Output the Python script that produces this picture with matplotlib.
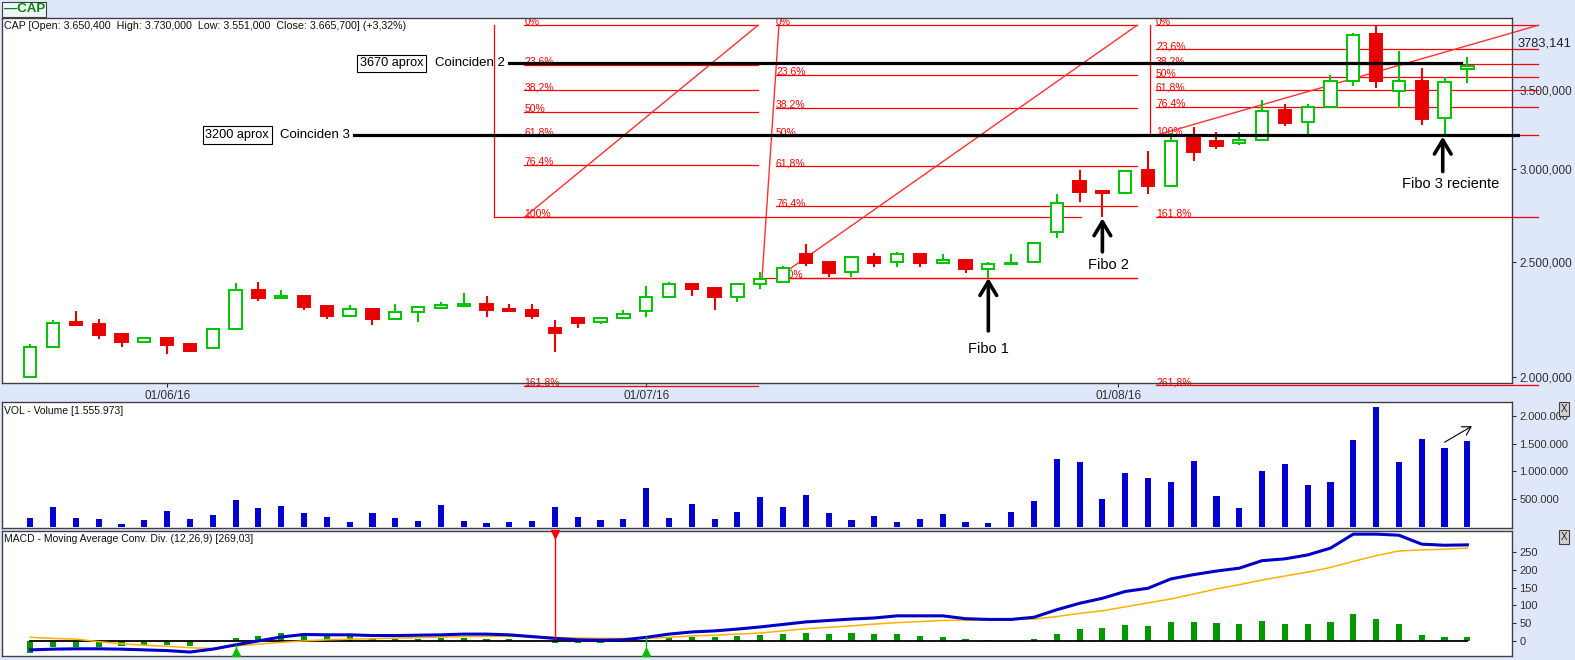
import numpy as np
import matplotlib
matplotlib.use('Agg')
import matplotlib.pyplot as plt
from matplotlib.patches import Rectangle
from matplotlib.ticker import FixedLocator, NullLocator

plt.rcParams['font.family'] = ['Liberation Sans', 'DejaVu Sans']

### data

opens = [2000, 2118, 2226, 2217, 2174, 2141, 2157, 2132, 2114, 2194,
         2369, 2334, 2341, 2296, 2253, 2283, 2240, 2268, 2288, 2297,
         2305, 2283, 2278, 2200, 2242, 2224, 2242, 2272, 2335, 2397,
         2378, 2338, 2396, 2405, 2541, 2501, 2452, 2527, 2501, 2540,
         2499, 2512, 2470, 2491, 2502, 2652, 2929, 2874, 2862, 2995,
         2904, 3190, 3169, 3159, 3174, 3367, 3288, 3388, 3561, 3905,
         3492, 3563, 3313, 3650.4]
highs = [2130, 2234, 2274, 2238, 2176, 2161, 2159, 2136, 2200, 2402,
         2406, 2369, 2343, 2297, 2301, 2284, 2305, 2293, 2314, 2355,
         2341, 2305, 2305, 2234, 2243, 2243, 2277, 2388, 2408, 2398,
         2379, 2396, 2452, 2483, 2590, 2502, 2532, 2548, 2550, 2541,
         2542, 2513, 2501, 2540, 2603, 2858, 2995, 2876, 2995, 3108,
         3219, 3257, 3224, 3224, 3433, 3404, 3404, 3603, 3911, 3972,
         3778, 3652, 3593, 3730]
lows = [1998, 2115, 2212, 2154, 2121, 2139, 2092, 2100, 2112, 2192,
        2320, 2329, 2278, 2240, 2249, 2212, 2239, 2227, 2284, 2296,
        2247, 2269, 2238, 2099, 2201, 2215, 2240, 2249, 2334, 2343,
        2280, 2313, 2375, 2404, 2483, 2428, 2428, 2479, 2479, 2479,
        2494, 2450, 2426, 2490, 2499, 2624, 2815, 2733, 2860, 2856,
        2903, 3048, 3120, 3144, 3172, 3265, 3211, 3386, 3530, 3516,
        3378, 3272, 3204, 3551]
closes = [2118, 2220, 2214, 2171, 2142, 2157, 2129, 2104, 2194, 2368,
          2334, 2341, 2293, 2253, 2281, 2240, 2269, 2292, 2301, 2305,
          2278, 2274, 2252, 2178, 2222, 2242, 2259, 2335, 2397, 2375,
          2338, 2396, 2419, 2472, 2499, 2450, 2527, 2499, 2540, 2499,
          2512, 2470, 2491, 2496, 2595, 2806, 2869, 2862, 2987, 2904,
          3168, 3104, 3140, 3176, 3359, 3279, 3388, 3561, 3898, 3565,
          3561, 3306, 3554, 3665.7]

volume = [156, 354, 156, 138, 48, 120, 282, 138, 210, 480,
          336, 372, 246, 174, 84, 246, 156, 102, 390, 102,
          66, 84, 102, 354, 174, 120, 138, 696, 156, 408,
          138, 264, 534, 354, 570, 246, 120, 192, 84, 138,
          228, 84, 66, 264, 462, 1218, 1164, 498, 966, 876,
          804, 1182, 552, 336, 1002, 1128, 750, 804, 1560, 2173,
          1164, 1578, 1416, 1556]   # miles

macd = [-24, -22, -21, -21, -22, -24, -26, -30, -22, -10,
        1, 12, 19, 18, 18, 16, 16, 17, 18, 20,
        20, 18, 13, 8, 4, 3, 4, 11, 20, 26,
        29, 34, 40, 47, 54, 58, 62, 65, 71, 71,
        71, 63, 61, 61, 67, 88, 106, 120, 139, 148,
        174, 186, 196, 204, 225, 230, 241, 260, 299, 299,
        296, 271, 268, 269]
signal = [11, 8, 6, -1, -7, -11, -14, -18, -20, -13,
          -8, -3, 1, 4, 6, 7, 9, 10, 12, 13,
          14, 14, 13, 11, 9, 8, 8, 8, 11, 15,
          17, 20, 23, 29, 35, 39, 43, 48, 52, 55,
          58, 59, 60, 61, 62, 69, 78, 85, 96, 107,
          118, 132, 146, 158, 171, 182, 193, 206, 223, 239,
          252, 255, 257, 260]
hist = [-34, -17, -17, -15, -12, -10, -10, -12, -3, 8,
        16, 22, 20, 17, 14, 8, 6, 6, 9, 9,
        6, 6, 0, -4, -4, -4, 0, 3, 11, 13,
        12, 15, 18, 21, 23, 21, 23, 21, 21, 15,
        12, 7, 4, 0, 7, 21, 35, 37, 46, 43,
        54, 54, 51, 49, 57, 49, 49, 54, 76, 62,
        49, 18, 12, 12]
buy_sig = [9, 27]
sell_sig = [23]

date_pos = [6, 27, 47.7]
date_labels = ['01/06/16', '01/07/16', '01/08/16']

price_ticks = [2000, 2500, 3000, 3500]
price_labels = ['2.000,000', '2.500,000', '3.000,000', '3.500,000']
vol_ticks = [500, 1000, 1500, 2000]
vol_labels = ['500.000', '1.000.000', '1.500.000', '2.000.000']
macd_ticks = [0, 50, 100, 150, 200, 250]

# fibonacci retracements: 0% and 100% prices
fib_top = 3972
fib1_low, fib2_low, fib3_low = 2731, 2425, 3206
fib1_levels = [0, 23.6, 38.2, 50, 61.8, 76.4, 100, 161.8]
fib2_levels = [0, 23.6, 38.2, 50, 61.8, 76.4, 100]
fib3_levels = [0, 23.6, 38.2, 50, 61.8, 76.4, 100, 161.8, 261.8]

coincide2 = 3688
coincide3 = 3206

### figure

W, H = 1575, 660
BG = '#dfe8fb'
GREEN = '#00c400'
RED = '#e80000'
fig = plt.figure(figsize=(W / 100, H / 100), dpi=100, facecolor=BG)


def px_axes(x0, y0, x1, y1):
    return fig.add_axes([x0 / W, 1 - y1 / H, (x1 - x0) / W, (y1 - y0) / H])


def ftext(x, y, s, **kw):
    return fig.text(x / W, 1 - y / H, s, **kw)


ax_p = px_axes(2, 18.3, 1512.3, 383.3)
ax_v = px_axes(2, 401.5, 1512.3, 528)
ax_m = px_axes(2, 530.7, 1512.3, 656)

XL = (-1.24, 64.97)
for ax in (ax_p, ax_v, ax_m):
    ax.set_xlim(*XL)
    ax.set_facecolor('white')
    for s in ax.spines.values():
        s.set_color('#404040')
        s.set_linewidth(1)
    ax.yaxis.tick_right()
    ax.tick_params(axis='y', direction='out', length=3, width=0.8,
                   colors='#303030', labelsize=8.5, pad=2)

n = len(opens)
idx = np.arange(n)

# ---- price panel
ax_p.set_yscale('log')
ax_p.set_ylim(1974.4, 4026.7)
ax_p.yaxis.set_major_locator(FixedLocator(price_ticks))
ax_p.yaxis.set_minor_locator(NullLocator())
ax_p.set_yticklabels(price_labels)
ax_p.set_xticks(date_pos)
ax_p.set_xticklabels(date_labels)
ax_p.tick_params(axis='x', direction='out', length=3, labelsize=8.5, pad=2, colors='#303030')

for i in range(n):
    o, h, l, c = opens[i], highs[i], lows[i], closes[i]
    col = GREEN if c >= o else RED
    ax_p.vlines(i, l, h, color=col, lw=1.5, zorder=3)
    lo_b, hi_b = min(o, c), max(o, c)
    if c >= o:
        ax_p.add_patch(Rectangle((i - 0.27, lo_b), 0.54, hi_b - lo_b, facecolor='white',
                                 edgecolor=col, lw=1.4, zorder=4))
    else:
        ax_p.add_patch(Rectangle((i - 0.27, lo_b), 0.54, hi_b - lo_b, facecolor=col,
                                 edgecolor=col, lw=1.4, zorder=4))


def fib_price(low, r):
    return fib_top - r / 100 * (fib_top - low)


def fib_label(r):
    return ('%g%%' % r).replace('.', ',')


def draw_fib(low, levels, x0, x1):
    for r in levels:
        p = fib_price(low, r)
        ax_p.plot([x0, x1], [p, p], color='#ff0000', lw=0.9, zorder=2, clip_on=False)
        ax_p.text(x0, p, fib_label(r), color='#ff0000', fontsize=7.5, va='baseline',
                  ha='left', zorder=2, clip_on=(r == 0))


# fibo 1
draw_fib(fib1_low, fib1_levels, 21.66, 31.9)
ax_p.plot([20.33, 20.33], [fib_top, fib1_low], color='#ff0000', lw=0.9, zorder=2)
ax_p.plot([20.33, 46.06], [fib1_low, fib1_low], color='#ff0000', lw=0.9, zorder=2)
ax_p.plot([21.66, 31.9], [fib1_low, fib_top], color='#ff3030', lw=1, zorder=2)
# fibo 2
draw_fib(fib2_low, fib2_levels, 32.69, 48.52)
ax_p.plot([32.82, 32.08], [fib_top, fib2_low], color='#ff3030', lw=1, zorder=2)
ax_p.plot([32.08, 48.52], [fib2_low, fib2_low], color='#ff0000', lw=0.9, zorder=2)
ax_p.plot([32.73, 48.52], [fib2_low, fib_top], color='#ff3030', lw=1, zorder=2)
# fibo 3
draw_fib(fib3_low, fib3_levels, 49.35, 66.1)
ax_p.plot([49.09, 49.09], [fib_top, fib3_low], color='#ff0000', lw=0.9, zorder=2)
ax_p.plot([49.39, 66.1], [fib3_low, fib_top], color='#ff3030', lw=1, zorder=2, clip_on=False)

# coincidence lines
ax_p.plot([21.0, 62.7], [coincide2, coincide2], color='black', lw=2.3, zorder=5)
ax_p.plot([14.2, 65.2], [coincide3, coincide3], color='black', lw=2.3, zorder=5, clip_on=False)
box = dict(boxstyle='square,pad=0.2', facecolor='white', edgecolor='black', lw=0.8)
ax_p.text(14.45, coincide2, '3670 aprox', fontsize=9.2, va='center', ha='left', bbox=box, zorder=6)
ax_p.text(17.75, coincide2, 'Coinciden 2', fontsize=9.5, va='center', ha='left', zorder=6)
ax_p.text(7.68, coincide3, '3200 aprox', fontsize=9.2, va='center', ha='left', bbox=box, zorder=6)
ax_p.text(10.95, coincide3, 'Coinciden 3', fontsize=9.5, va='center', ha='left', zorder=6)

# arrows
arw = dict(arrowstyle='->,head_length=1.0,head_width=0.6', lw=2.6, color='black',
           shrinkA=0, shrinkB=0)
ax_p.annotate('', xy=(42, 2425), xytext=(42, 2187), arrowprops=arw, zorder=6)
ax_p.text(42, 2113, 'Fibo 1', fontsize=10.5, ha='center', va='center')
ax_p.annotate('', xy=(47, 2725), xytext=(47, 2552), arrowprops=arw, zorder=6)
ax_p.text(47.27, 2488, 'Fibo 2', fontsize=10.5, ha='center', va='center')
ax_p.annotate('', xy=(61.92, 3196), xytext=(61.92, 2985), arrowprops=arw, zorder=6)
ax_p.text(62.25, 2914, 'Fibo 3 reciente', fontsize=10.5, ha='center', va='center')

# ---- volume panel
ax_v.bar(idx, volume, width=0.27, color='#0000d0', zorder=3)
ax_v.set_ylim(-27, 2264.5)
ax_v.set_xticks([])
ax_v.set_yticks(vol_ticks)
ax_v.set_yticklabels(vol_labels)
ax_v.tick_params(axis='y', labelsize=8)
ax_v.annotate('', xy=(63.2, 1817), xytext=(62.0, 1527),
              arrowprops=dict(arrowstyle='->,head_length=0.6,head_width=0.35', lw=0.8,
                              color='black', shrinkA=0, shrinkB=0))

# ---- macd panel
ax_m.bar(idx, hist, width=0.27, color='#009a00', zorder=2)
ax_m.plot([0, n - 1], [0, 0], color='black', lw=1.3, zorder=3)
ax_m.plot(idx, signal, color='#ffb000', lw=1.1, zorder=4)
ax_m.plot(idx, macd, color='#0000c8', lw=2.2, zorder=5)
ax_m.set_ylim(-41.1, 308.6)
ax_m.set_xticks([])
ax_m.set_yticks(macd_ticks)
ax_m.tick_params(axis='y', labelsize=8)
for i in sell_sig:
    ax_m.plot([i, i], [macd[i], 300], color='#ff0000', lw=1, zorder=6)
    ax_m.plot(i, 300, marker='v', ms=6, color='#ff0000', zorder=7, clip_on=False)
for i in buy_sig:
    ax_m.plot([i, i], [-30, macd[i]], color='#00c000', lw=1, zorder=6)
    ax_m.plot(i, -31, marker='^', ms=6, color='#00c000', zorder=7, clip_on=False)

# ---- header texts
ftext(3.5, 9.5, '\u2014CAP', color='#008a00', fontsize=9.5, fontweight='bold', va='center',
      bbox=dict(boxstyle='square,pad=0.12', facecolor='#eef3fd', edgecolor='#404040', lw=0.8))
ftext(4, 26, 'CAP [Open: 3.650,400  High: 3.730,000  Low: 3.551,000  Close: 3.665,700] (+3,32%)',
      fontsize=7.7, va='center', color='#101010')
ftext(1518, 43.5, '3783,141', fontsize=9.3, va='center', color='#202020')
ftext(4, 411, 'VOL - Volume [1.555.973]', fontsize=7.5, va='center', color='#101010')
ftext(4, 539, 'MACD - Moving Average Conv. Div. (12,26,9) [269,03]', fontsize=7.5,
      va='center', color='#101010')
for yb in (409, 537):
    ftext(1561, yb, 'X', fontsize=7, va='center', color='#202020',
          bbox=dict(boxstyle='square,pad=0.2', facecolor='#d0d0d0', edgecolor='#404040', lw=0.8))

fig.savefig('out.png', dpi=100, facecolor=BG)
